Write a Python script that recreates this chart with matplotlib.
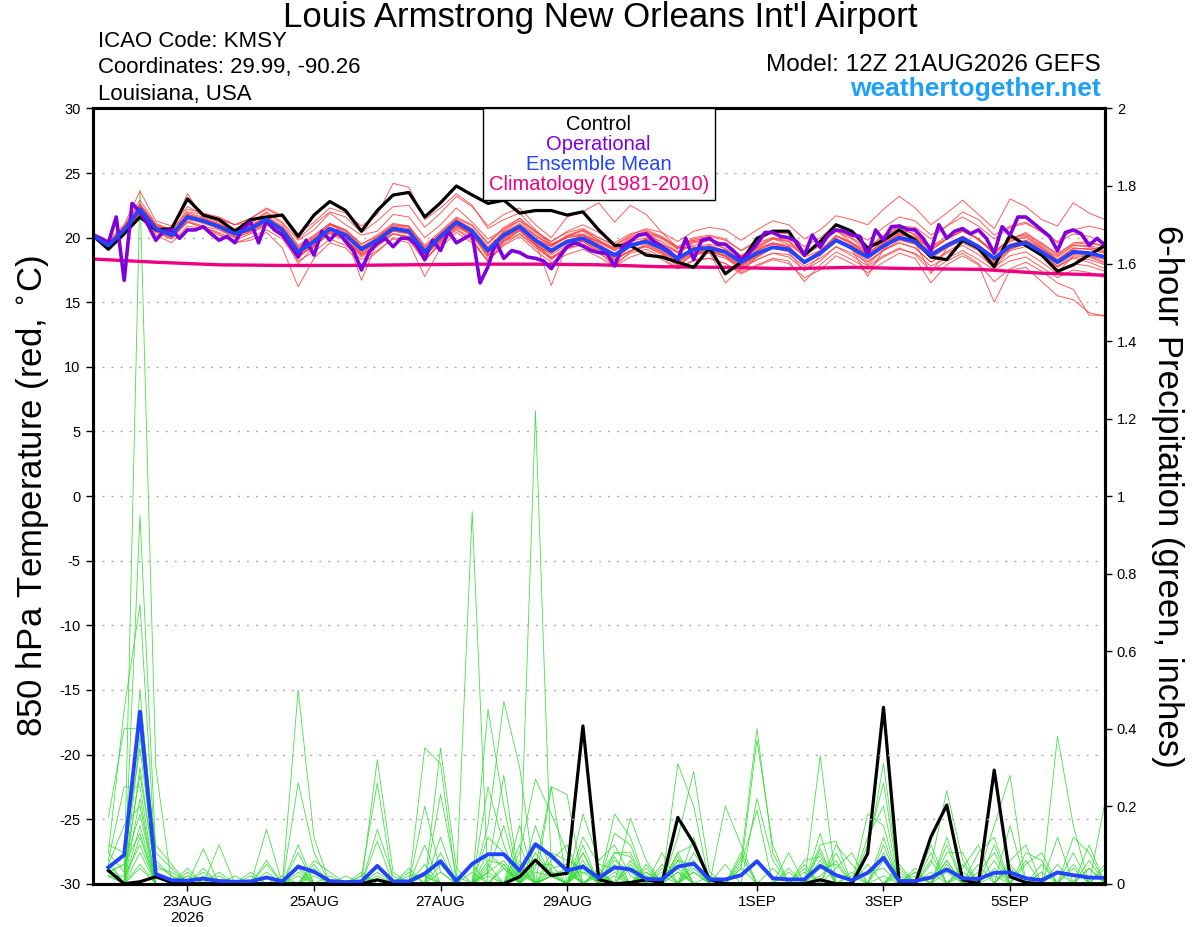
import numpy as np
import pandas as pd
import matplotlib
matplotlib.use("Agg")
import matplotlib.pyplot as plt
from matplotlib.offsetbox import TextArea, VPacker, AnchoredOffsetbox
from datetime import datetime

plt.rcParams['font.family'] = ['Liberation Sans', 'DejaVu Sans']
plt.rcParams['axes.unicode_minus'] = False

# ---- data -----------------------------------------------------------------
run_start = "2026-08-21 12:00"
times = pd.date_range(run_start, periods=65, freq="6h").to_pydatetime()
op_times = pd.date_range(run_start, periods=129, freq="3h").to_pydatetime()
clim_times = pd.date_range(run_start, periods=17, freq="24h").to_pydatetime()
pcp_times = times[1:]

# 850 hPa temperature (C), 6-hourly
control_t = [20.2, 19.1, 20.3, 21.6, 20.6, 20.7, 23.0, 21.75, 21.4, 20.5, 21.4, 21.6, 21.75,
             20.1, 21.75, 22.8, 22.1, 20.5, 22.1, 23.3, 23.5, 21.6, 22.7, 24.0, 23.3, 22.65,
             22.9, 21.9, 22.1, 22.1, 21.75, 22.0, 20.6, 19.4, 19.4, 18.65, 18.5, 18.1, 17.7,
             19.2, 17.2, 18.1, 19.95, 20.5, 20.5, 18.65, 19.7, 21.0, 20.5, 19.2, 19.8, 20.6,
             19.8, 18.5, 18.3, 19.8, 19.2, 17.75, 20.2, 19.4, 18.65, 17.4, 17.9, 18.65, 19.4]

ens_mean_t = [20.2, 19.4, 20.6, 22.2, 20.7, 20.2, 21.6, 21.3, 20.85, 20.3, 20.7, 21.4, 20.6,
              18.9, 19.7, 20.7, 20.2, 19.1, 19.8, 20.7, 20.5, 18.9, 20.1, 21.2, 20.5, 19.0,
              20.2, 20.85, 19.8, 19.0, 19.7, 19.95, 19.3, 18.65, 19.4, 19.7, 19.2, 18.4, 19.1,
              19.2, 18.9, 18.1, 18.8, 19.25, 19.1, 18.1, 18.8, 19.8, 19.2, 18.5, 19.35, 20.0,
              19.7, 18.65, 19.4, 19.95, 19.3, 18.4, 19.35, 19.6, 18.9, 18.1, 18.9, 18.8, 18.5]

# operational run, 3-hourly
oper_t = [20.2, 19.95, 19.6, 21.6, 16.7, 22.65, 22.0, 21.0, 19.8, 20.5, 20.6, 19.95, 20.6,
          20.6, 20.85, 20.3, 19.8, 20.1, 19.6, 20.7, 21.2, 19.6, 21.3, 20.6, 20.2, 19.4,
          18.5, 19.8, 18.65, 20.5, 19.8, 20.5, 19.7, 19.0, 17.5, 18.9, 19.6, 19.95, 19.3,
          19.95, 19.95, 19.4, 18.3, 19.8, 19.0, 20.5, 19.6, 19.95, 20.3, 16.5, 17.75, 19.7,
          18.4, 19.0, 18.85, 18.5, 18.4, 18.2, 17.6, 18.5, 19.3, 19.6, 19.35, 19.0, 18.85,
          18.8, 17.8, 19.3, 19.7, 20.2, 20.3, 19.7, 19.3, 18.9, 18.3, 19.95, 18.3, 19.8,
          19.95, 19.5, 19.5, 19.0, 18.3, 18.8, 19.5, 20.4, 20.4, 20.1, 20.0, 19.7, 18.65,
          20.2, 19.25, 20.2, 20.6, 20.5, 20.2, 20.1, 18.65, 20.6, 19.8, 20.85, 20.9, 20.65,
          20.6, 19.95, 19.0, 21.0, 19.95, 20.5, 20.7, 20.3, 20.6, 19.95, 18.8, 20.85, 20.2,
          21.6, 21.6, 21.1, 20.6, 20.1, 19.0, 20.4, 20.6, 20.3, 19.4, 19.95, 19.4]

# 1981-2010 climatology, daily
climo_t = [18.35, 18.1, 17.9, 17.85, 17.85, 17.9, 17.95, 17.95, 17.9, 17.75, 17.7, 17.6,
           17.7, 17.6, 17.55, 17.25, 17.1]

member_t = [
    [20.4, 19.8, 21.0, 23.6, 21.3, 20.9, 22.4, 21.8, 21.5, 21.0, 21.2, 22.0, 21.2,
     19.8, 20.6, 21.9, 21.0, 20.2, 20.5, 21.8, 21.6, 20.0, 21.0, 22.3, 21.2, 19.9,
     20.6, 21.5, 20.4, 19.5, 20.1, 20.6, 19.8, 19.2, 19.8, 20.4, 19.5, 18.9, 19.4,
     19.8, 19.1, 18.6, 19.2, 19.9, 19.5, 18.6, 19.4, 20.6, 19.6, 19.0, 20.1, 20.8,
     20.2, 19.3, 19.9, 20.8, 19.8, 18.9, 19.9, 20.4, 19.5, 18.8, 19.5, 19.6, 19.3],
    [20.0, 19.2, 20.2, 21.8, 20.2, 19.6, 20.9, 20.7, 20.2, 19.6, 20.0, 20.6, 19.9,
     18.2, 18.9, 19.9, 19.4, 18.3, 19.0, 19.9, 19.6, 17.0, 19.2, 20.4, 19.6, 18.2,
     19.4, 20.1, 19.0, 18.1, 18.7, 19.1, 18.5, 17.8, 18.5, 18.9, 18.3, 17.6, 18.2,
     18.4, 18.0, 17.3, 17.9, 18.4, 18.2, 16.6, 17.9, 18.9, 18.3, 17.6, 18.5, 19.1,
     18.8, 17.8, 18.4, 19.0, 18.3, 17.5, 18.2, 18.5, 17.7, 16.9, 17.5, 17.3, 16.9],
    [20.3, 19.3, 20.8, 22.6, 21.0, 20.5, 22.2, 21.9, 21.6, 21.0, 21.5, 22.2, 21.6,
     19.9, 21.0, 22.0, 21.6, 20.4, 21.3, 22.4, 22.5, 20.8, 21.9, 23.2, 22.4, 20.9,
     21.8, 22.3, 21.0, 20.0, 21.6, 22.0, 22.7, 21.2, 22.5, 21.8, 20.4, 19.2, 19.3,
     19.1, 18.5, 17.7, 18.5, 19.2, 19.0, 18.0, 18.8, 19.9, 19.4, 18.6, 19.5, 20.3,
     20.1, 19.1, 19.9, 20.5, 19.9, 18.8, 19.9, 20.2, 19.4, 18.6, 19.4, 19.3, 18.9],
    [20.1, 19.5, 20.5, 22.0, 20.4, 19.9, 21.3, 20.9, 20.6, 20.0, 20.5, 21.1, 20.2,
     18.0, 19.3, 20.4, 19.9, 18.6, 19.5, 20.3, 20.0, 18.2, 19.7, 20.7, 19.9, 18.1,
     19.7, 20.6, 19.4, 18.3, 19.3, 19.8, 19.2, 18.3, 19.3, 19.9, 19.3, 18.3, 19.2,
     19.5, 19.2, 18.2, 19.0, 19.6, 19.4, 18.0, 18.9, 20.1, 19.6, 18.7, 19.8, 20.6,
     20.3, 19.0, 19.9, 20.6, 19.9, 18.7, 19.7, 20.1, 19.3, 18.3, 19.2, 19.1, 18.8],
    [20.2, 19.4, 20.7, 22.3, 20.8, 20.3, 21.7, 21.4, 21.0, 20.5, 20.9, 21.6, 20.8,
     19.2, 20.0, 21.0, 20.6, 19.5, 20.1, 21.0, 20.9, 19.3, 20.3, 21.4, 20.6, 19.0,
     20.0, 20.6, 19.4, 18.5, 19.2, 19.5, 18.8, 18.0, 18.8, 19.1, 18.5, 17.6, 18.3,
     18.4, 18.0, 17.2, 17.8, 18.3, 18.0, 16.9, 17.5, 18.6, 18.0, 17.3, 18.1, 18.8,
     18.4, 16.5, 17.9, 18.6, 17.9, 15.0, 17.5, 17.7, 16.6, 15.5, 15.2, 14.2, 13.9],
    [20.3, 19.6, 20.9, 22.9, 21.1, 20.6, 23.4, 21.5, 21.0, 20.4, 20.8, 21.7, 20.9,
     19.3, 20.1, 21.1, 20.6, 19.5, 20.2, 21.1, 20.9, 19.4, 20.5, 21.6, 21.0, 19.6,
     20.8, 21.5, 20.5, 19.7, 20.4, 20.7, 20.0, 19.4, 20.1, 20.5, 20.0, 19.2, 19.9,
     20.1, 19.8, 19.0, 19.8, 20.4, 20.3, 19.3, 20.0, 21.0, 20.5, 19.8, 20.8, 21.6,
     21.3, 20.2, 20.9, 21.6, 20.9, 19.9, 20.8, 21.1, 20.5, 19.7, 20.6, 20.9, 20.6],
    [20.1, 19.3, 20.4, 21.9, 20.5, 20.0, 21.4, 21.2, 20.8, 20.2, 20.5, 21.3, 20.4,
     18.5, 19.4, 20.5, 20.1, 18.9, 19.6, 20.6, 20.4, 18.6, 19.8, 21.0, 20.2, 18.6,
     19.8, 20.6, 19.6, 16.3, 19.5, 19.9, 19.3, 18.6, 19.5, 19.9, 19.5, 18.8, 19.6,
     19.8, 19.4, 18.5, 19.1, 19.5, 19.2, 18.1, 18.8, 19.8, 19.1, 17.0, 19.1, 19.6,
     19.2, 18.1, 18.8, 19.4, 18.7, 17.7, 18.6, 18.9, 18.1, 17.2, 18.0, 17.8, 17.4],
    [20.3, 19.5, 20.6, 22.1, 20.6, 20.1, 21.2, 20.8, 20.3, 19.6, 19.8, 20.4, 19.2,
     16.2, 18.4, 19.6, 19.2, 17.9, 18.9, 20.0, 19.8, 18.2, 19.6, 20.8, 20.3, 18.9,
     20.2, 21.0, 20.2, 19.4, 20.1, 20.5, 19.8, 19.0, 19.7, 20.0, 19.4, 18.5, 19.2,
     19.4, 19.0, 18.0, 18.7, 19.3, 19.1, 18.1, 19.0, 20.2, 19.6, 18.8, 19.7, 20.4,
     20.0, 18.8, 19.5, 20.1, 19.4, 18.3, 19.2, 19.5, 18.8, 18.0, 18.9, 18.6, 18.1],
    [20.2, 19.6, 20.9, 22.5, 21.0, 20.6, 22.0, 21.8, 21.4, 21.0, 21.5, 22.3, 21.7,
     20.3, 21.2, 22.3, 21.9, 20.9, 21.8, 24.2, 23.9, 21.4, 22.3, 23.4, 22.5, 20.7,
     21.4, 21.9, 20.6, 19.5, 20.0, 20.2, 19.4, 18.6, 19.3, 19.6, 19.0, 18.1, 18.8,
     18.9, 18.6, 17.8, 18.6, 19.2, 19.1, 18.2, 19.0, 20.1, 19.5, 18.7, 19.6, 20.3,
     19.9, 18.8, 19.5, 20.1, 19.4, 18.4, 19.4, 19.8, 19.2, 18.5, 19.4, 19.4, 19.1],
    [20.2, 19.3, 20.5, 22.0, 20.8, 20.4, 21.9, 21.6, 21.2, 20.7, 21.0, 21.6, 20.7,
     19.0, 19.6, 20.5, 19.9, 18.7, 19.4, 20.3, 20.0, 18.3, 19.5, 20.6, 19.8, 18.2,
     19.5, 20.3, 19.4, 18.8, 19.7, 20.2, 19.7, 19.2, 20.0, 20.4, 20.0, 19.3, 20.0,
     20.2, 19.9, 19.0, 19.6, 20.0, 19.7, 18.5, 19.0, 19.9, 19.1, 18.2, 19.0, 19.6,
     19.2, 18.1, 18.9, 19.6, 19.0, 18.1, 19.1, 19.5, 18.9, 18.2, 19.1, 19.2, 19.0],
    [20.1, 19.4, 20.6, 22.4, 20.9, 20.3, 21.5, 21.1, 20.7, 20.1, 20.6, 21.4, 20.7,
     19.1, 19.9, 21.0, 20.5, 19.3, 19.9, 20.8, 20.5, 18.8, 19.9, 21.0, 20.3, 18.8,
     20.0, 20.8, 19.9, 19.3, 20.2, 20.6, 20.0, 19.4, 20.2, 20.7, 20.4, 19.7, 20.5,
     20.8, 20.6, 19.8, 20.6, 21.3, 21.0, 19.9, 20.6, 21.7, 21.4, 21.0, 22.2, 23.2,
     22.3, 21.0, 21.9, 22.9, 21.8, 20.7, 23.0, 22.4, 21.4, 20.9, 22.7, 21.9, 21.4],
    [20.3, 19.5, 20.7, 22.1, 20.5, 19.9, 21.2, 20.8, 20.4, 19.8, 20.3, 21.0, 20.2,
     18.6, 19.4, 20.4, 19.9, 18.8, 19.6, 20.5, 20.3, 18.7, 19.9, 21.0, 20.4, 19.1,
     20.4, 21.1, 20.1, 19.3, 20.0, 20.2, 19.5, 18.8, 19.5, 19.7, 19.1, 18.2, 18.9,
     18.9, 16.5, 17.6, 18.3, 18.8, 18.5, 17.5, 18.2, 19.3, 18.8, 18.1, 19.0, 19.8,
     19.5, 18.5, 19.3, 19.9, 19.2, 18.3, 19.3, 19.5, 18.7, 17.8, 18.4, 18.1, 17.6],
    [20.2, 19.2, 20.4, 22.0, 20.6, 20.2, 21.6, 21.2, 20.8, 20.3, 20.7, 21.2, 20.3,
     18.4, 19.6, 20.8, 20.3, 16.7, 19.7, 20.8, 20.6, 18.5, 19.9, 21.2, 20.4, 18.4,
     19.9, 20.8, 19.6, 18.4, 19.3, 19.7, 18.9, 17.8, 18.9, 19.5, 18.9, 17.7, 18.8,
     19.0, 18.6, 17.4, 18.5, 19.2, 18.9, 17.4, 18.6, 19.9, 19.1, 17.9, 19.1, 20.1,
     19.6, 17.2, 19.2, 20.0, 19.0, 17.6, 19.1, 19.6, 18.6, 17.3, 18.6, 18.5, 18.0],
    [20.3, 19.6, 20.8, 22.6, 21.0, 20.4, 21.8, 21.4, 21.0, 20.4, 20.7, 21.4, 20.6,
     19.0, 19.9, 21.0, 20.4, 19.2, 19.9, 20.8, 20.6, 19.0, 20.2, 21.3, 20.6, 19.1,
     20.2, 20.8, 19.8, 18.9, 19.7, 20.2, 19.6, 19.0, 19.8, 20.3, 19.9, 19.1, 19.8,
     19.9, 19.5, 18.6, 19.4, 20.0, 19.8, 18.8, 19.5, 20.5, 19.9, 19.0, 20.0, 20.9,
     20.8, 19.9, 20.9, 22.0, 21.4, 20.2, 20.9, 21.2, 20.4, 19.6, 20.3, 20.1, 19.6],
    [20.1, 19.3, 20.5, 22.3, 20.8, 20.2, 21.6, 21.3, 20.9, 20.3, 20.6, 21.3, 20.5,
     18.9, 19.7, 20.6, 20.1, 19.0, 19.8, 20.6, 20.4, 18.9, 20.0, 21.0, 20.2, 18.7,
     19.8, 20.5, 19.5, 18.7, 19.4, 19.7, 19.0, 18.3, 19.0, 19.3, 18.8, 17.9, 18.7,
     18.8, 18.4, 17.6, 18.3, 18.8, 18.7, 17.8, 18.4, 19.3, 18.6, 17.8, 18.6, 19.2,
     18.7, 17.4, 18.2, 18.8, 18.0, 16.6, 17.6, 18.1, 17.4, 16.5, 16.0, 14.0, 14.0],
    [20.2, 19.4, 20.6, 22.2, 20.6, 20.1, 21.5, 21.3, 20.9, 20.4, 20.8, 21.5, 20.8,
     19.1, 19.8, 20.7, 20.2, 19.0, 19.7, 20.6, 20.3, 18.7, 19.9, 21.1, 20.4, 18.9,
     20.1, 20.7, 19.6, 18.8, 19.6, 19.8, 19.1, 18.5, 19.3, 19.6, 19.1, 18.3, 19.1,
     19.3, 19.0, 18.2, 19.0, 19.5, 19.3, 18.2, 18.9, 19.9, 19.3, 18.6, 19.5, 20.1,
     19.8, 18.8, 19.5, 20.1, 19.4, 18.5, 19.5, 19.8, 19.1, 18.3, 19.2, 19.1, 18.8],
    [20.2, 19.5, 20.7, 22.4, 20.9, 20.4, 21.7, 21.2, 20.7, 20.0, 20.4, 21.1, 20.3,
     18.6, 19.3, 20.3, 19.8, 18.5, 19.3, 20.3, 20.1, 18.6, 19.8, 20.9, 20.3, 19.2,
     20.5, 21.3, 20.5, 19.7, 20.5, 21.0, 20.4, 19.6, 20.3, 20.6, 20.1, 19.2, 19.8,
     19.9, 19.5, 18.6, 19.3, 19.9, 19.7, 18.7, 19.5, 20.6, 20.0, 19.2, 20.2, 21.0,
     20.5, 19.3, 20.1, 20.7, 19.9, 18.9, 19.9, 20.3, 19.6, 18.7, 19.6, 19.7, 19.3],
    [20.0, 19.2, 20.3, 21.8, 20.5, 20.1, 21.5, 21.2, 20.8, 20.2, 20.6, 21.2, 20.4,
     18.7, 19.5, 20.5, 19.9, 18.7, 19.5, 20.5, 20.3, 18.7, 19.8, 20.9, 20.1, 18.6,
     19.7, 20.3, 19.2, 18.4, 19.1, 19.5, 18.9, 18.2, 19.0, 19.4, 18.9, 18.1, 18.9,
     19.1, 18.7, 17.9, 18.6, 19.2, 19.0, 18.0, 18.7, 19.7, 19.2, 18.6, 19.5, 20.2,
     20.0, 19.1, 19.9, 20.5, 19.9, 18.9, 19.8, 20.0, 19.2, 18.3, 19.0, 18.9, 18.6],
    [20.3, 19.6, 20.8, 22.4, 20.8, 20.2, 21.6, 21.3, 21.0, 20.6, 21.1, 21.9, 21.1,
     19.4, 20.2, 21.1, 20.6, 19.3, 20.0, 20.9, 20.7, 19.1, 20.3, 21.4, 20.7, 19.3,
     20.4, 21.0, 19.9, 19.1, 19.8, 20.0, 19.2, 18.4, 19.0, 19.3, 18.7, 17.9, 18.7,
     18.9, 18.6, 17.8, 18.7, 19.3, 19.2, 18.1, 18.9, 19.9, 19.3, 18.5, 19.4, 20.0,
     19.6, 18.5, 19.3, 19.9, 19.2, 18.2, 19.2, 19.5, 18.7, 17.8, 18.7, 18.6, 18.3],
    [20.2, 19.3, 20.5, 22.1, 20.7, 20.3, 21.8, 21.5, 21.1, 20.5, 20.9, 21.5, 20.6,
     18.8, 19.6, 20.7, 20.3, 19.2, 20.0, 21.0, 20.8, 19.2, 20.4, 21.5, 20.9, 19.5,
     20.7, 21.3, 20.2, 19.4, 20.1, 20.3, 19.7, 19.1, 19.9, 20.2, 19.7, 18.9, 19.7,
     19.8, 19.4, 18.5, 19.2, 19.6, 19.3, 18.2, 18.9, 19.8, 19.2, 18.4, 19.3, 19.9,
     19.5, 18.4, 19.2, 19.8, 19.1, 18.0, 19.0, 19.3, 18.6, 17.7, 18.5, 18.3, 17.9],
]

# 6-hour precipitation (inches), steps 1..64
control_p = [0.034, 0.0, 0.005, 0.018, 0.003, 0, 0, 0, 0, 0, 0, 0, 0, 0, 0, 0, 0, 0.01,
             0, 0, 0, 0, 0, 0, 0, 0, 0.018, 0.061, 0.021, 0.027, 0.407, 0.011, 0, 0.003,
             0.01, 0.003, 0.171, 0.104, 0.01, 0, 0, 0, 0, 0, 0, 0.01, 0, 0, 0.078, 0.455,
             0, 0, 0.121, 0.203, 0.01, 0, 0.293, 0.018, 0.003, 0, 0, 0, 0, 0]

ens_mean_p = [0.042, 0.074, 0.444, 0.025, 0.009, 0.008, 0.013, 0.007, 0.005, 0.006, 0.016,
              0.006, 0.044, 0.031, 0.007, 0.004, 0.006, 0.046, 0.006, 0.006, 0.026, 0.058,
              0.007, 0.051, 0.076, 0.076, 0.034, 0.102, 0.072, 0.034, 0.044, 0.015, 0.042,
              0.037, 0.012, 0.011, 0.044, 0.052, 0.011, 0.011, 0.022, 0.058, 0.014, 0.011,
              0.011, 0.046, 0.022, 0.009, 0.028, 0.067, 0.007, 0.007, 0.016, 0.037, 0.014,
              0.012, 0.028, 0.029, 0.014, 0.009, 0.029, 0.022, 0.016, 0.015]

# ensemble members: {step: hundredths of an inch}, unlisted steps are dry
member_p = [
    {1: 17, 2: 40, 3: 40, 4: 10, 5: 5, 11: 3, 13: 10, 21: 5, 25: 4, 26: 28, 28: 5, 29: 5,
     31: 5, 33: 13, 34: 10, 37: 6, 45: 6, 46: 7, 49: 12, 50: 20, 54: 10, 56: 5, 60: 3},
    {1: 10, 2: 8, 3: 35, 4: 3, 6: 4, 12: 1, 14: 2, 18: 5, 22: 35, 23: 4, 27: 4, 29: 2,
     30: 4, 34: 4, 36: 8, 38: 12, 41: 5, 42: 19, 47: 8, 50: 8, 53: 8, 55: 2, 57: 2, 61: 3},
    {1: 8, 2: 3, 3: 28, 4: 3, 7: 4, 9: 2, 13: 4, 16: 2, 22: 5, 24: 3, 26: 5, 28: 10, 29: 2,
     31: 12, 32: 5, 33: 4, 35: 5, 38: 4, 41: 6, 42: 40, 43: 8, 48: 2, 51: 5, 54: 3, 58: 15,
     63: 4},
    {1: 8, 2: 45, 3: 72, 4: 5, 5: 2, 11: 6, 14: 6, 15: 3, 21: 3, 25: 3, 27: 15, 29: 2,
     30: 3, 31: 3, 32: 2, 33: 8, 34: 8, 37: 7, 43: 4, 46: 4, 47: 5, 49: 18, 50: 15, 56: 3,
     57: 8, 64: 21},
    {1: 6, 3: 179, 4: 30, 6: 3, 18: 2, 20: 3, 25: 15, 26: 47, 27: 30, 29: 2, 31: 6, 33: 3,
     35: 2, 38: 8, 39: 2, 44: 8, 46: 13, 54: 8, 55: 8, 62: 12, 63: 8},
    {1: 6, 2: 25, 3: 25, 7: 9, 13: 26, 14: 8, 22: 23, 23: 2, 28: 4, 29: 25, 30: 23, 32: 2,
     36: 3, 37: 4, 46: 9, 49: 3, 50: 4, 53: 6, 59: 8, 60: 6},
    {1: 5, 3: 95, 4: 8, 5: 4, 10: 2, 17: 2, 18: 26, 25: 12, 26: 8, 28: 8, 29: 2, 31: 10,
     33: 8, 34: 7, 38: 3, 40: 20, 41: 10, 48: 3, 52: 4, 56: 8, 57: 12, 63: 6},
    {1: 5, 2: 15, 3: 20, 8: 10, 13: 8, 21: 10, 24: 5, 27: 6, 29: 25, 32: 4, 37: 8, 38: 10,
     45: 3, 49: 8, 50: 31, 54: 6, 64: 4},
    {1: 4, 3: 50, 4: 6, 5: 2, 14: 4, 18: 32, 19: 3, 25: 6, 26: 5, 29: 2, 31: 8, 33: 7,
     36: 5, 46: 10, 47: 11, 51: 4, 58: 5, 61: 5},
    {1: 3, 2: 5, 3: 18, 6: 2, 11: 14, 13: 2, 18: 3, 22: 12, 27: 3, 29: 4, 30: 5, 32: 3,
     34: 17, 35: 6, 38: 6, 41: 4, 42: 37, 43: 10, 50: 10, 54: 5, 59: 6, 62: 8},
    {1: 3, 3: 38, 4: 4, 5: 3, 12: 2, 20: 2, 21: 2, 25: 45, 26: 20, 28: 15, 29: 3, 31: 4,
     33: 5, 37: 31, 38: 20, 47: 4, 48: 8, 52: 3, 55: 5, 57: 10, 62: 4},
    {1: 3, 2: 5, 3: 13, 7: 3, 13: 50, 14: 12, 25: 3, 26: 6, 28: 3, 29: 2, 31: 8, 33: 2,
     35: 3, 37: 3, 39: 2, 45: 4, 50: 12, 53: 10, 57: 6, 61: 12, 64: 5},
    {1: 2, 3: 30, 4: 2, 6: 2, 10: 3, 17: 3, 21: 20, 22: 3, 25: 2, 27: 10, 29: 3, 30: 3,
     33: 18, 34: 12, 36: 2, 38: 3, 44: 4, 46: 8, 51: 2, 54: 12, 58: 6, 59: 10},
    {1: 2, 2: 2, 3: 10, 8: 3, 18: 14, 19: 2, 24: 96, 26: 4, 29: 8, 30: 6, 31: 4, 35: 2,
     37: 6, 38: 5, 41: 7, 49: 10, 50: 26, 55: 4, 56: 10, 63: 4},
    {1: 2, 3: 22, 7: 2, 13: 5, 15: 2, 22: 3, 25: 5, 27: 8, 28: 27, 29: 18, 30: 8, 32: 3,
     34: 5, 36: 4, 42: 22, 43: 6, 50: 2, 52: 3, 57: 4, 61: 38, 62: 15},
    {3: 15, 11: 5, 18: 11, 25: 3, 26: 15, 28: 122, 29: 3, 31: 5, 35: 4, 37: 3, 40: 5,
     44: 3, 46: 6, 49: 5, 53: 5, 54: 24, 55: 6},
    {3: 12, 8: 2, 14: 5, 21: 35, 22: 31, 27: 3, 29: 2, 30: 3, 33: 6, 34: 3, 37: 8, 41: 8,
     46: 33, 55: 3, 59: 5, 60: 8},
    {3: 8, 11: 2, 17: 2, 21: 2, 25: 8, 26: 4, 29: 6, 30: 10, 32: 3, 34: 6, 38: 5, 41: 4,
     45: 5, 47: 10, 48: 5, 51: 3, 56: 2, 57: 15, 58: 28},
    {3: 5, 13: 3, 22: 8, 27: 5, 29: 2, 31: 3, 35: 3, 37: 12, 38: 29, 39: 3, 50: 6, 53: 3,
     60: 5, 62: 5},
    {3: 4, 14: 3, 20: 4, 25: 25, 26: 10, 28: 6, 29: 2, 31: 18, 32: 6, 33: 10, 34: 2, 46: 2,
     47: 6, 52: 2, 54: 6, 58: 4, 63: 10},
]

tick_dates = [datetime(2026, 8, 23), datetime(2026, 8, 25), datetime(2026, 8, 27),
              datetime(2026, 8, 29), datetime(2026, 9, 1), datetime(2026, 9, 3),
              datetime(2026, 9, 5)]
tick_labels = ["23AUG\n2026", "25AUG", "27AUG", "29AUG", "1SEP", "3SEP", "5SEP"]

legend_labels = ["Control", "Operational", "Ensemble Mean", "Climatology (1981-2010)"]

# ---- styles ---------------------------------------------------------------
C_CTRL = "black"
C_OPER = "#8000dd"
C_MEAN = "#2244ff"
C_CLIM = "#ee0080"
C_MEMT = "#ff4040"
C_MEMP = "#33dd33"

fig = plt.figure(figsize=(12, 9.27), dpi=100)
ax = fig.add_axes([0.0771, 0.0467, 0.8437, 0.8363])
ax2 = ax.twinx()
# precipitation underneath the temperature traces
ax.set_zorder(ax2.get_zorder() + 1)
ax.patch.set_visible(False)

# precipitation (right axis)
n_steps = len(pcp_times)
for mem in member_p:
    vals = np.zeros(n_steps)
    for step, hund in mem.items():
        vals[step - 1] = hund / 100.0
    ax2.plot(pcp_times, vals, color=C_MEMP, lw=0.6, alpha=0.9)
ax2.plot(pcp_times, control_p, color=C_CTRL, lw=2.3)
ax2.plot(pcp_times, ens_mean_p, color=C_MEAN, lw=2.8)

# temperature (left axis)
for mem in member_t:
    ax.plot(times, mem, color=C_MEMT, lw=0.7, alpha=0.85)
ax.plot(clim_times, climo_t, color=C_CLIM, lw=2.4)
ax.plot(times, control_t, color=C_CTRL, lw=2.3)
ax.plot(op_times, oper_t, color=C_OPER, lw=2.6)
ax.plot(times, ens_mean_t, color=C_MEAN, lw=2.8)

ax.set_xlim(times[0], times[-1])
ax.set_ylim(-30, 30)
ax.set_yticks(np.arange(-30, 31, 5))
ax2.set_ylim(0, 2)
ax2.set_yticks(np.arange(0, 2.01, 0.2))
ax2.set_yticklabels(["0", "0.2", "0.4", "0.6", "0.8", "1", "1.2", "1.4", "1.6", "1.8", "2"])

ax.set_xticks(tick_dates)
ax.set_xticklabels(tick_labels, fontsize=11)
ax.tick_params(axis='y', labelsize=10.5, length=5, width=1, direction='out')
ax.tick_params(axis='x', length=5, width=1, direction='out', pad=3)
ax2.tick_params(axis='y', labelsize=10.5, length=5, width=1, direction='out')
ax.yaxis.grid(True, color="#aaaaaa", lw=1.0, linestyle=(0, (1.5, 5)))

for a in (ax, ax2):
    for s in a.spines.values():
        s.set_linewidth(2.2)

ax.set_ylabel("850 hPa Temperature (red, $^{\\circ}$C)", fontsize=25)
ax.yaxis.set_label_coords(-0.041, 0.5)
ax2.set_ylabel("6-hour Precipitation (green, inches)", fontsize=25, rotation=-90,
               labelpad=34)

# key box: centred coloured text lines
key_lines = [TextArea(lbl, textprops=dict(color=col, fontsize=14.5))
             for lbl, col in zip(legend_labels, [C_CTRL, C_OPER, C_MEAN, C_CLIM])]
key_box = AnchoredOffsetbox(loc='upper center',
                            child=VPacker(children=key_lines, align='center', pad=0, sep=0.8),
                            pad=0.3, borderpad=0, frameon=True, prop=dict(size=14.5),
                            bbox_to_anchor=(0.5, 1.0), bbox_transform=ax.transAxes)
key_box.patch.set_boxstyle("square", pad=0)
key_box.patch.set_edgecolor("black")
key_box.patch.set_linewidth(1.0)
key_box.set_zorder(20)
ax.add_artist(key_box)

# header texts
H = 927.0
fig.text(0.5, 1 - 27 / H, "Louis Armstrong New Orleans Int'l Airport", ha='center',
         va='baseline', fontsize=25)
fig.text(98 / 1200, 1 - 47 / H, "ICAO Code: KMSY", ha='left', va='baseline', fontsize=16)
fig.text(98 / 1200, 1 - 73 / H, "Coordinates: 29.99, -90.26", ha='left', va='baseline',
         fontsize=16)
fig.text(98 / 1200, 1 - 100 / H, "Louisiana, USA", ha='left', va='baseline', fontsize=16)
fig.text(1101 / 1200, 1 - 71 / H, "Model: 12Z 21AUG2026 GEFS", ha='right', va='baseline',
         fontsize=17.5)
fig.text(1101 / 1200, 1 - 96 / H, "weathertogether.net", ha='right', va='baseline',
         fontsize=19, fontweight='bold', color="#1ea0f5")

fig.savefig("out.png", dpi=100)
